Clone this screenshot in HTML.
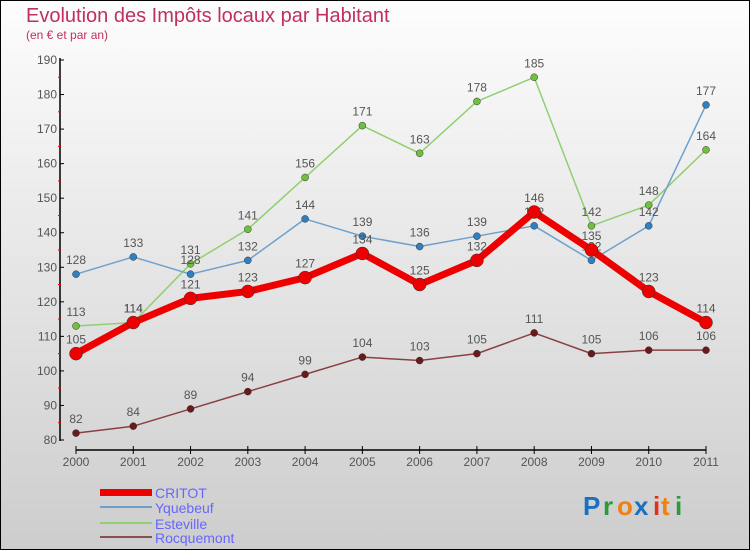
<!DOCTYPE html>
<html><head><meta charset="utf-8"><style>
body{margin:0;}
svg text{font-family:"Liberation Sans",sans-serif;}
</style></head><body>
<svg id="c" width="750" height="550" xmlns="http://www.w3.org/2000/svg">
<defs><linearGradient id="bg" x1="0" y1="0" x2="0" y2="1"><stop offset="0" stop-color="#fdfdfd"/><stop offset="1" stop-color="#cdcdcd"/></linearGradient></defs>
<rect x="0.5" y="0.5" width="749" height="549" fill="url(#bg)" stroke="#000"/>
<text x="26" y="22" font-size="20" fill="#c0305a">Evolution des Impôts locaux par Habitant</text>
<text x="26" y="39" font-size="12" fill="#c0305a">(en € et par an)</text>
<g id="axes"></g><g id="series"></g>
<g>
<rect x="100" y="489" width="52" height="7" fill="#e00"/>
<text x="155" y="498" font-size="14" fill="#6666ff">CRITOT</text>
<rect x="100" y="506" width="52" height="2" fill="#6fa0cc"/>
<text x="155" y="513" font-size="14" fill="#6666ff">Yquebeuf</text>
<rect x="100" y="522" width="52" height="2" fill="#90d070"/>
<text x="155" y="529" font-size="14" fill="#6666ff">Esteville</text>
<rect x="100" y="536" width="52" height="2" fill="#8a5050"/>
<text x="155" y="543" font-size="14" fill="#6666ff">Rocquemont</text>
</g>
<g font-size="26" font-weight="bold">
<text x="583" y="515" fill="#1a70c0">P</text><text x="603" y="515" fill="#2a9a3a">r</text><text x="617" y="515" fill="#f08010">o</text><text x="634" y="515" fill="#1a70c0">x</text><text x="653" y="515" fill="#e03020">i</text><text x="661" y="515" fill="#f08010">t</text><text x="675" y="515" fill="#2a9a3a">i</text>
</g>
</svg>
<script>
const years=["2000","2001","2002","2003","2004","2005","2006","2007","2008","2009","2010","2011"];
const yTicks=[80,90,100,110,120,130,140,150,160,170,180,190];
const critot=[105,114,121,123,127,134,125,132,146,135,123,114];
const yquebeuf=[128,133,128,132,144,139,136,139,142,132,142,177];
const esteville=[113,114,131,141,156,171,163,178,185,142,148,164];
const rocquemont=[82,84,89,94,99,104,103,105,111,105,106,106];
const NS="http://www.w3.org/2000/svg";
const xS=i=>76+i*(630/11);
const yS=v=>440-(v-80)*3.4545;
function mk(tag,at,parent){const e=document.createElementNS(NS,tag);for(const k in at)e.setAttribute(k,at[k]);parent.appendChild(e);return e;}
const ax=document.getElementById('axes');
mk('line',{x1:60,y1:58,x2:60,y2:441,stroke:'#000','stroke-width':1.5},ax);
mk('line',{x1:76,y1:450,x2:706,y2:450,stroke:'#000','stroke-width':1.5},ax);
yTicks.forEach((v,i)=>{
 const t=mk('text',{x:57,y:yS(v)+4,'font-size':12,fill:'#555','text-anchor':'end'},ax);t.textContent=v;
 
 
 mk('line',{x1:60,y1:yS(v),x2:64,y2:yS(v),stroke:'#000'},ax);
 if(i<yTicks.length-1)mk('line',{x1:58,y1:yS(v+5),x2:61,y2:yS(v+5),stroke:'#e00'},ax);
});
years.forEach((y,i)=>{
 mk('line',{x1:xS(i),y1:446,x2:xS(i),y2:454,stroke:'#000'},ax);
 const t=mk('text',{x:xS(i),y:466,'font-size':12,fill:'#555','text-anchor':'middle'},ax);t.textContent=y;
 
 
});
const sg=document.getElementById('series');
function draw(name,data,color,w,r,dot){
 const g=mk('g',{},sg);
 
 
 mk('polyline',{points:data.map((v,i)=>xS(i)+','+yS(v)).join(' '),fill:'none',stroke:color,'stroke-width':w,'stroke-linejoin':'round'},g);
 data.forEach((v,i)=>{
  const c=mk('circle',{cx:xS(i),cy:yS(v),r:r,fill:dot,stroke:'#333','stroke-width':0.5},g);
  
  
  const t=mk('text',{x:xS(i),y:yS(v)-10,'font-size':12,fill:'#555','text-anchor':'middle'},g);t.textContent=v;
  
  
 });
}
draw('rocquemont',rocquemont,'#8a4040',1.5,3.5,'#6a1a1a');
draw('esteville',esteville,'#90d070',1.5,3.5,'#70c040');
draw('yquebeuf',yquebeuf,'#6fa0cc',1.5,3.5,'#3080c0');
draw('critot',critot,'#ee0000',7,6.5,'#ee0000');
</script>
</body></html>
